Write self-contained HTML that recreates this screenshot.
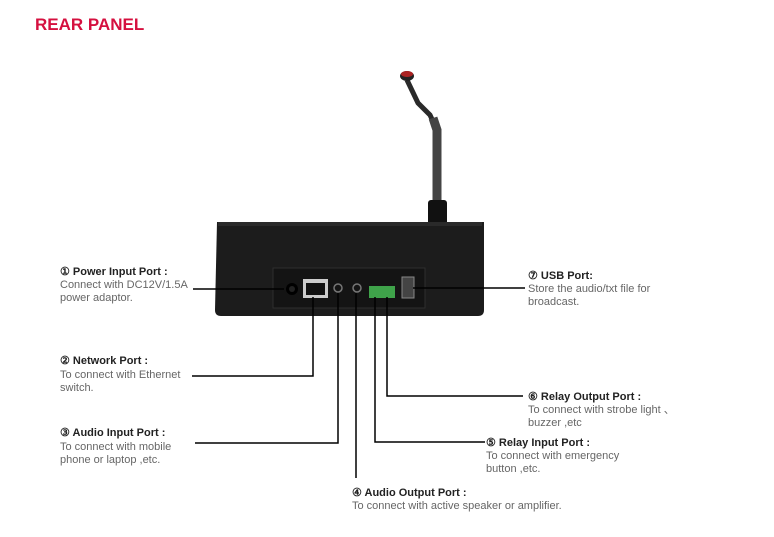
<!DOCTYPE html>
<html><head><meta charset="utf-8"><style>
html,body{margin:0;padding:0;background:#fff;width:774px;height:537px;overflow:hidden}
svg{display:block}
.t{font-family:"Liberation Sans",sans-serif;font-size:11px;fill:#222;font-weight:bold}
.d{font-family:"Liberation Sans",sans-serif;font-size:11px;fill:#666}
</style></head><body>
<svg width="774" height="537" viewBox="0 0 774 537">
<text x="35" y="30" font-family="Liberation Sans,sans-serif" font-size="17" font-weight="bold" fill="#d5103f">REAR PANEL</text>
<!-- mic -->
<path d="M407 80 L418 103 L430 115 L437 130 L437 205" stroke="#2a2a2a" stroke-width="5" fill="none"/>
<path d="M433 118 L437 130 L437 205" stroke="#444" stroke-width="9" fill="none"/>
<ellipse cx="407" cy="76" rx="7" ry="5" fill="#222"/>
<ellipse cx="407" cy="74" rx="6" ry="3" fill="#a22"/>
<rect x="428" y="200" width="19" height="25" rx="3" fill="#111"/>
<!-- body -->
<path d="M217 222 L484 222 L484 310 Q484 316 478 316 L221 316 Q215 316 215 310 Z" fill="#1c1c1c"/>
<rect x="218" y="222" width="264" height="4" fill="#2a2a2a"/>
<rect x="273" y="268" width="152" height="40" fill="#141414" stroke="#2e2e2e"/>
<!-- ports -->
<circle cx="292" cy="289" r="6" fill="#000"/><circle cx="292" cy="289" r="3" fill="#222"/>
<rect x="303" y="279" width="25" height="19" fill="#ccc"/><rect x="306" y="283" width="19" height="12" fill="#111"/>
<circle cx="338" cy="288" r="4" fill="none" stroke="#777" stroke-width="1.5"/>
<circle cx="357" cy="288" r="4" fill="none" stroke="#777" stroke-width="1.5"/>
<rect x="369" y="286" width="26" height="12" fill="#3fa34a"/>
<rect x="402" y="277" width="12" height="21" fill="#444" stroke="#888"/>
<!-- lines -->
<g stroke="#000" stroke-width="1.5" fill="none">
<path d="M193 289 H284"/>
<path d="M313 297 V376 H192"/>
<path d="M338 293 V443 H195"/>
<path d="M356 293 V478"/>
<path d="M375 297 V442 H485"/>
<path d="M387 297 V396 H523"/>
<path d="M413 288 H525"/>
</g>
<!-- labels -->
<text class="t" x="60" y="275">① Power Input Port :</text>
<text class="d" x="60" y="288">Connect with DC12V/1.5A</text>
<text class="d" x="60" y="301">power adaptor.</text>
<text class="t" x="60" y="364">② Network Port :</text>
<text class="d" x="60" y="378">To connect with Ethernet</text>
<text class="d" x="60" y="391">switch.</text>
<text class="t" x="60" y="436">③ Audio Input Port :</text>
<text class="d" x="60" y="450">To connect with mobile</text>
<text class="d" x="60" y="463">phone or laptop ,etc.</text>
<text class="t" x="528" y="279">⑦ USB Port:</text>
<text class="d" x="528" y="292">Store the audio/txt file for</text>
<text class="d" x="528" y="305">broadcast.</text>
<text class="t" x="528" y="400">⑥ Relay Output Port :</text>
<text class="d" x="528" y="413">To connect with strobe light 、</text>
<text class="d" x="528" y="426">buzzer ,etc</text>
<text class="t" x="486" y="446">⑤ Relay Input Port :</text>
<text class="d" x="486" y="459">To connect with emergency</text>
<text class="d" x="486" y="472">button ,etc.</text>
<text class="t" x="352" y="496">④ Audio Output Port :</text>
<text class="d" x="352" y="509">To connect with active speaker or amplifier.</text>
</svg>
</body></html>
